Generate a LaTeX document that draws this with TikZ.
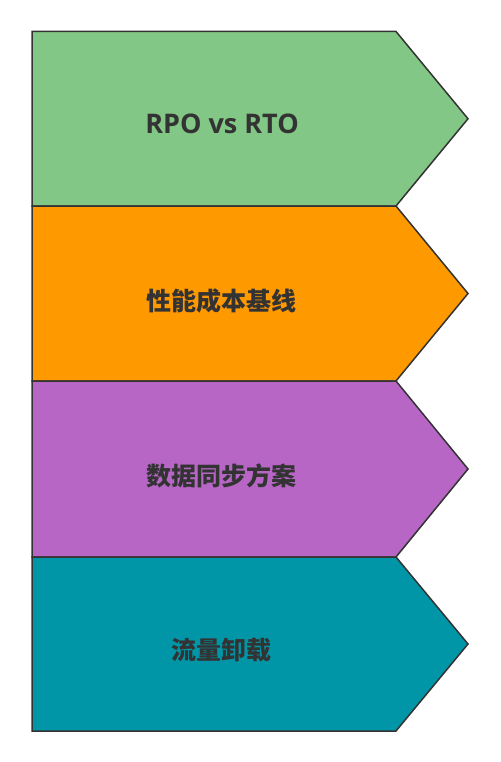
\documentclass[tikz,border=0pt]{standalone}
\usepackage{fontspec}
\setmainfont{Open Sans}
\newfontfamily\cjk{Noto Sans CJK SC}
\definecolor{cgreen}{HTML}{82C785}
\definecolor{corange}{HTML}{FF9900}
\definecolor{cpurple}{HTML}{B766C6}
\definecolor{cteal}{HTML}{0096A7}
\definecolor{cline}{HTML}{333333}
\tikzset{
  arrowbox/.style={draw=cline, line width=1.5pt, line join=miter},
  lbl/.style={text=cline, font=\bfseries\fontsize{27}{30}\selectfont, inner sep=0pt, anchor=center},
  cjklbl/.style={lbl, font=\cjk\bfseries\fontsize{25}{28}\selectfont},
}
\begin{document}
\begin{tikzpicture}[x=1pt,y=-1pt]
\useasboundingbox (0,0) rectangle (500,762);
\fill[white] (0,0) rectangle (500,762);
\newcommand{\arrowshape}[3]{%
  \draw[arrowbox, fill=#3] (32,#1) -- (396,#1) -- (468,{(#1+#2)/2}) -- (396,#2) -- (32,#2) -- cycle;}
\arrowshape{31.5}{206}{cgreen}
\arrowshape{206}{381}{corange}
\arrowshape{381}{557}{cpurple}
\arrowshape{557}{731}{cteal}
\node[lbl] (t1) at (222,124) {RPO vs RTO};
\node[cjklbl] (t2) at (221,300.5) {性能成本基线};
\node[cjklbl] (t3) at (221,475.5) {数据同步方案};
\node[cjklbl] (t4) at (221,650) {流量卸载};
\end{tikzpicture}
\end{document}
